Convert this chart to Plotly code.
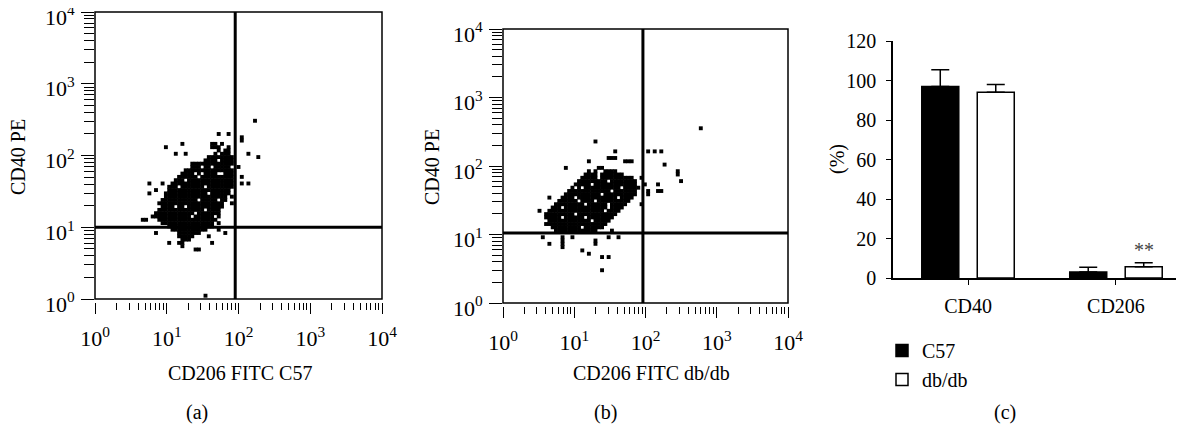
import plotly.graph_objects as go

# page has an 8px body margin: figure pixels = page pixels - 8
OFF = 8
W, H = 1184 - OFF, 425 - OFF
FONT = "Liberation Serif"

# ---------------- data ----------------
# Flow-cytometry dot plots: occupied cells of the (log-spaced) dot grid,
# read from the picture. "row:cols" -> row index, column list / ranges.
dots_a = [
    "1:35", "5:24,27", "6:31", "7:31", "8:13,22,23,25", "9:8,22-24,27",
    "10:24,26,27", "11:11,14,23,25-27,33", "12:21-28,36", "13:20-23,25-28",
    "14:16-28", "15:16-18,20-21,23-27,30", "16:14-28",
    "17:13-16,18,20-23,26-28", "18:12-17,19-28,31", "19:11-13,15-28",
    "20:3,7,10-28,31,33", "21:9-11,13-19,21-28", "22:5,9-27",
    "23:3,8-20,22-27", "24:8-26,28", "25:7-17,19-23,25-26", "26:6-25,28",
    "27:7-10,12-13,15-25", "28:6-19,21-24", "29:5-16,18-24",
    "30:4-15,17-22,24", "31:1,2,6-23", "32:7-22,24", "33:9-22",
    "34:10-20,24", "35:5,12-18,26", "36:12-16,21", "37:13-15",
    "38:9,12,13,22", "39:13", "40:17,18", "54:20",
]
dots_b = [
    "1:51", "5:19", "8:25,35,37,39", "10:23-25", "11:17,28-30", "12:40",
    "13:10,20,21", "14:17,19,22-25,44", "15:16-19,21-27,44",
    "16:15-19,21-30,33", "17:14-22,24-31,45", "18:13-17,19-31,34,38",
    "19:12,14,16-26,28-32", "20:11-23,25-31,35,38,39", "21:10-20,22-31,35",
    "22:5,9-12,14-25,27-30", "23:8-13,15-18,20-29", "24:7-15,17-22,24-28,33",
    "25:6-8,10-22,24-27", "26:2,5-21,23-26", "27:4-12,14-25",
    "28:4-8,10-15,17-24", "29:5-17,19-23", "30:4-22", "31:6-14,16-21",
    "32:7-19,24", "34:3,9,12,23,26", "35:9,19", "36:5,9,19", "37:9",
    "38:15", "39:17", "40:21,23", "44:21",
]
# quadrant gates (x = CD206, y = CD40)
gate_a = [90, 10]
gate_b = [92, 10.5]

decades = [1, 10, 100, 1000, 10000]
decade_labels = ["10<sup>0</sup>", "10<sup>1</sup>", "10<sup>2</sup>",
                 "10<sup>3</sup>", "10<sup>4</sup>"]

markers = ["CD40", "CD206"]
c57_mean = [97, 3]
c57_err = [8.5, 2.5]
db_mean = [94, 5.7]
db_err = [4, 2]

# ---------------- grid geometry (log10 units) ----------------
GRID_A = dict(x0=0.620, y0=2.530, dx=0.046, dy=0.046)
GRID_B = dict(x0=0.420, y0=2.599, dx=0.0462, dy=0.0482)


def parse(spec, g):
    xs, ys = [], []
    for item in spec:
        r, cols = item.split(":")
        r = int(r)
        for part in cols.split(","):
            if "-" in part:
                a, b = part.split("-")
                cs = range(int(a), int(b) + 1)
            else:
                cs = [int(part)]
            for c in cs:
                xs.append(10 ** (g["x0"] + c * g["dx"]))
                ys.append(10 ** (g["y0"] - r * g["dy"]))
    return xs, ys


def px(x):
    return (x - OFF) / W


def py(y):
    return 1 - (y - OFF) / H


fig = go.Figure()

for (spec, g, gate, xa, ya) in [(dots_a, GRID_A, gate_a, "x", "y"),
                               (dots_b, GRID_B, gate_b, "x2", "y2")]:
    xs, ys = parse(spec, g)
    fig.add_trace(go.Scatter(x=xs, y=ys, mode="markers", xaxis=xa, yaxis=ya,
                             marker=dict(symbol="square", size=3.9, color="black",
                                         line=dict(width=0)),
                             showlegend=False, hoverinfo="skip"))
    fig.add_trace(go.Scatter(x=[gate[0], gate[0]], y=[1, 10000], mode="lines",
                             xaxis=xa, yaxis=ya, line=dict(color="black", width=3),
                             showlegend=False, hoverinfo="skip"))
    fig.add_trace(go.Scatter(x=[1, 10000], y=[gate[1], gate[1]], mode="lines",
                             xaxis=xa, yaxis=ya, line=dict(color="black", width=3),
                             showlegend=False, hoverinfo="skip"))

fig.add_trace(go.Bar(x=markers, y=c57_mean, name="C57", xaxis="x3", yaxis="y3",
                     marker=dict(color="black", line=dict(color="black", width=1.5)),
                     error_y=dict(type="data", array=c57_err, arrayminus=[0, 0],
                                  symmetric=False, color="black", thickness=1.5, width=9)))
fig.add_trace(go.Bar(x=markers, y=db_mean, name="db/db", xaxis="x3", yaxis="y3",
                     marker=dict(color="white", line=dict(color="black", width=1.5)),
                     error_y=dict(type="data", array=db_err, arrayminus=[0, 0],
                                  symmetric=False, color="black", thickness=1.5, width=9)))

minor_vals = [m * d for d in decades[:-1] for m in range(2, 10)]

tickfont = dict(family=FONT, size=20, color="black")
logfont = dict(family=FONT, size=22, color="black")


def log_x(domain, pos):
    return dict(type="log", range=[0, 4], domain=domain, anchor="free", position=pos,
                automargin=False, ticklabeloverflow="allow",
                showline=False, showgrid=False, zeroline=False,
                ticks="outside", ticklen=11, tickwidth=1.3, tickcolor="black",
                tickmode="array", tickvals=decades, ticktext=decade_labels,
                minor=dict(ticks="outside", ticklen=7, tickwidth=1.3, tickcolor="black",
                           tickmode="array", tickvals=minor_vals, showgrid=False),
                tickfont=logfont, ticklabelstandoff=6)


def log_y(domain, anchor):
    return dict(type="log", range=[0, 4], domain=domain, anchor=anchor,
                automargin=False, ticklabeloverflow="allow",
                showline=False, showgrid=False, zeroline=False,
                ticks="outside", ticklen=13, tickwidth=1.3, tickcolor="black",
                tickmode="array", tickvals=decades, ticktext=decade_labels,
                minor=dict(ticks="outside", ticklen=10, tickwidth=1.3, tickcolor="black",
                           tickmode="array", tickvals=minor_vals, showgrid=False),
                tickfont=logfont, ticklabelstandoff=2, ticklabelshift=5)


fig.update_layout(
    width=W, height=H, margin=dict(l=0, r=0, t=0, b=0, autoexpand=False),
    paper_bgcolor="white", plot_bgcolor="white",
    font=dict(family=FONT, size=20, color="black"),
    xaxis=log_x([px(95), px(382)], py(302)),
    yaxis=log_y([py(299), py(12)], "x"),
    xaxis2=log_x([px(503), px(788)], py(306)),
    yaxis2=log_y([py(303), py(29)], "x2"),
    xaxis3=dict(domain=[px(893), px(1183)], anchor="y3", type="category",
                automargin=False, ticklabeloverflow="allow",
                range=[-0.507, 1.453], showline=True, linecolor="black", linewidth=1.5,
                ticks="outside", ticklen=5, tickwidth=1.3, tickcolor="black",
                showgrid=False, tickfont=tickfont, ticklabelstandoff=4),
    yaxis3=dict(domain=[py(278), py(41)], anchor="x3", range=[0, 120], dtick=20,
                automargin=False, ticklabeloverflow="allow",
                showline=True, linecolor="black", linewidth=1.5,
                ticks="outside", ticklen=5, tickwidth=1.3, tickcolor="black",
                showgrid=False, zeroline=False, tickfont=tickfont, ticklabelstandoff=6),
    barmode="group", bargap=0.25, bargroupgap=0.333,
    legend=dict(x=px(882), y=py(331), xanchor="left", yanchor="top",
                font=dict(family=FONT, size=20, color="black"),
                bgcolor="rgba(0,0,0,0)", itemwidth=30, tracegroupgap=0),
)

for xr, yr in [("x", "y"), ("x2", "y2")]:
    fig.add_shape(type="rect", xref=f"{xr} domain", yref=f"{yr} domain",
                  x0=0, x1=1, y0=0, y1=1, line=dict(color="black", width=1.5),
                  layer="above")

ann = [
    ("CD206 FITC C57", 240, 373, 0),
    ("CD206 FITC db/db", 651, 373, 0),
    ("(a)", 197, 412, 0),
    ("(b)", 605, 412, 0),
    ("(c)", 1005, 412, 0),
    ("CD40 PE", 18, 157, -90),
    ("CD40 PE", 432, 167, -90),
    ("(%)", 837, 159, -90),
]
for text, x, y, ang in ann:
    fig.add_annotation(text=text, x=px(x), y=py(y), xref="paper", yref="paper",
                       showarrow=False, textangle=ang, xanchor="center", yanchor="middle",
                       font=dict(family=FONT, size=20, color="black"))

fig.add_annotation(text="**", x=1.1875, y=db_mean[1] + db_err[1], xref="x3", yref="y3",
                   showarrow=False, yanchor="bottom", yshift=0,
                   font=dict(family=FONT, size=20, color="#444"))

fig.write_html("out.html")
